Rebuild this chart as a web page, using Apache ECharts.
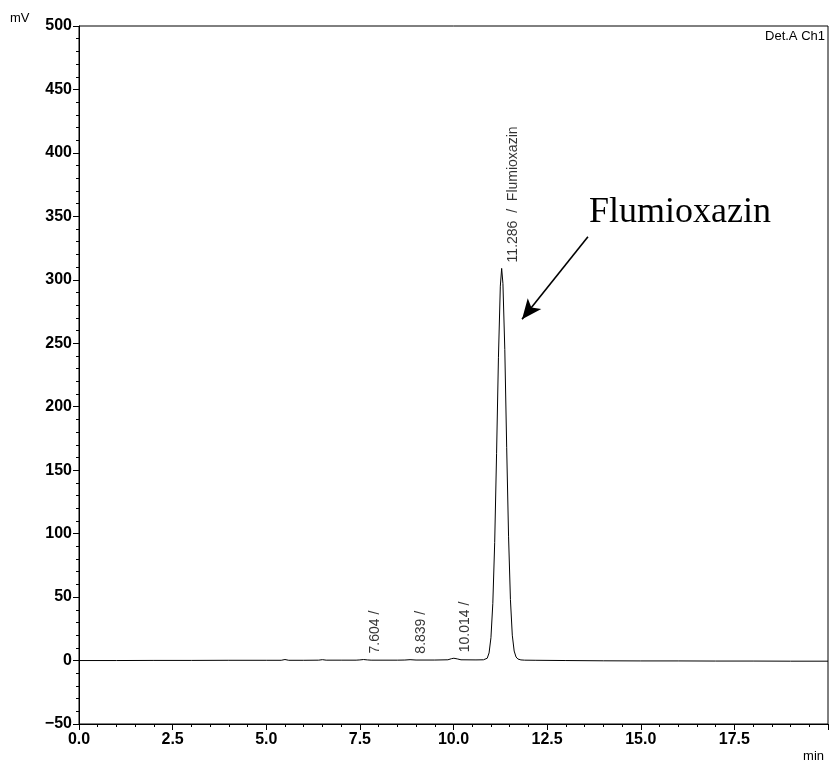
<!DOCTYPE html>
<html style="height: 100%">
<head>
  <meta charset="utf-8">
  <title>Flumioxazin chromatogram</title>
  <style>
    body {
      margin: 0;
      background: #fff;
    }
    #container {
      width: 832px;
      height: 764px;
    }
  </style>
</head>
<body style="height: 100%">
  <div id="container"></div>

  <script type="text/javascript" src="https://cdn.jsdelivr.net/npm/echarts@6/dist/echarts.min.js"></script>

  <script type="text/javascript">
    // retention time (min) and detector signal (mV)
    var times = [0, 1, 2, 3, 4, 5, 5.4, 5.5, 5.6, 6, 6.4, 6.5, 6.6, 7, 7.4, 7.5, 7.6, 7.7, 7.8,
      8.5, 8.7, 8.84, 9.0, 9.5, 9.85, 9.95, 10.01, 10.1, 10.2, 10.6, 10.8, 10.9, 10.95,
      11.0, 11.05, 11.1, 11.15, 11.2, 11.25, 11.286, 11.32, 11.37, 11.42, 11.47, 11.52,
      11.57, 11.62, 11.67, 11.72, 11.8, 11.9, 12.2, 13, 14, 15, 16, 17, 18, 19, 20];
    var signal = [0, 0, 0.1, 0.1, 0.2, 0.2, 0.2, 0.8, 0.2, 0.2, 0.3, 0.7, 0.3, 0.3, 0.3, 0.5, 0.8, 0.5, 0.3,
      0.3, 0.4, 0.7, 0.4, 0.4, 0.6, 1.5, 1.8, 1.3, 0.6, 0.5, 0.6, 1.8, 6,
      18, 45, 93, 163, 239, 295, 309, 297, 245, 168, 98, 48,
      20, 7.5, 2.8, 1.2, 0.5, 0.3, 0.2, 0, -0.2, -0.3, -0.3, -0.4, -0.4, -0.5, -0.5];

    // integrated peaks
    var peakTimes = [7.604, 8.839, 10.014, 11.286];
    var peakHeights = [0.8, 0.7, 1.8, 309];
    var peakNames = ['', '', '', 'Flumioxazin'];

    // axis ticks
    var yMin = -50, yMax = 500, yStep = 50;
    var xMin = 0, xMax = 20, xStep = 2.5;

    // annotation arrow (data coordinates)
    var arrowFrom = [13.59, 334];
    var arrowTo = [11.83, 269];

    var traceData = times.map(function (t, i) { return [t, signal[i]]; });
    var peakData = peakTimes.map(function (t, i) {
      return { value: [t, peakHeights[i]], name: peakNames[i] };
    });

    var dom = document.getElementById('container');
    var myChart = echarts.init(dom, null, { renderer: 'canvas' });

    // tick labels look like a narrow bold face on the print-out
    var labelFont = {
      fontFamily: '"Liberation Sans Narrow", "Liberation Sans", sans-serif',
      fontWeight: 'bold',
      fontSize: 16,
      color: '#000'
    };

    var option = {
      backgroundColor: '#fff',
      animation: false,
      grid: {
        left: 79,
        right: 4,
        top: 26,
        bottom: 40,
        show: true,
        borderColor: '#000',
        borderWidth: 1
      },
      xAxis: {
        type: 'value',
        min: xMin,
        max: xMax,
        interval: xStep,
        splitLine: { show: false },
        axisLine: { onZero: false, lineStyle: { color: '#000', width: 1 } },
        axisTick: { length: 6, lineStyle: { color: '#000' } },
        minorTick: { show: true, splitNumber: 5, length: 3, lineStyle: { color: '#000' } },
        axisLabel: Object.assign({
          margin: 8,
          showMaxLabel: false,
          formatter: function (v) { return v.toFixed(1); }
        }, labelFont)
      },
      yAxis: {
        type: 'value',
        min: yMin,
        max: yMax,
        interval: yStep,
        splitLine: { show: false },
        axisLine: { onZero: false, lineStyle: { color: '#000', width: 1 } },
        axisTick: { length: 6, lineStyle: { color: '#000' } },
        minorTick: { show: true, splitNumber: 5, length: 3, lineStyle: { color: '#000' } },
        axisLabel: Object.assign({
          margin: 7,
          formatter: function (v) { return v < 0 ? '\u2212' + String(-v) : String(v); }
        }, labelFont)
      },
      graphic: [
        {
          type: 'text',
          left: 10,
          top: 12,
          style: { text: 'mV', font: '13px "Liberation Sans"', fill: '#000' }
        },
        {
          type: 'text',
          right: 8,
          top: 750,
          style: { text: 'min', font: '13px "Liberation Sans"', fill: '#000' }
        },
        {
          type: 'text',
          right: 7,
          top: 30,
          style: { text: 'Det.A Ch1', font: '13px "Liberation Sans"', fill: '#000' }
        },
        {
          type: 'text',
          left: 589,
          top: 195,
          style: { text: 'Flumioxazin', font: '36px "Liberation Serif"', fill: '#000' }
        }
      ],
      series: [
        {
          type: 'line',
          data: traceData,
          showSymbol: false,
          symbol: 'none',
          lineStyle: { color: '#000', width: 1 },
          z: 3
        },
        {
          type: 'scatter',
          data: peakData,
          symbolSize: 0,
          silent: true,
          label: {
            show: true,
            position: 'top',
            distance: 6,
            rotate: 90,
            align: 'left',
            verticalAlign: 'middle',
            offset: [0, 11],
            fontFamily: 'Liberation Sans',
            fontSize: 14,
            color: '#000',
            formatter: function (p) {
              var t = p.value[0].toFixed(3);
              return p.name ? t + '  /  ' + p.name : t + ' /';
            }
          },
          markLine: {
            silent: true,
            symbol: ['none', 'arrow'],
            symbolSize: [13, 20],
            lineStyle: { color: '#000', width: 1.6, type: 'solid' },
            label: { show: false },
            data: [[{ coord: arrowFrom }, { coord: arrowTo }]]
          }
        }
      ]
    };

    myChart.setOption(option);
    window.addEventListener('resize', myChart.resize);
  </script>
</body>
</html>
